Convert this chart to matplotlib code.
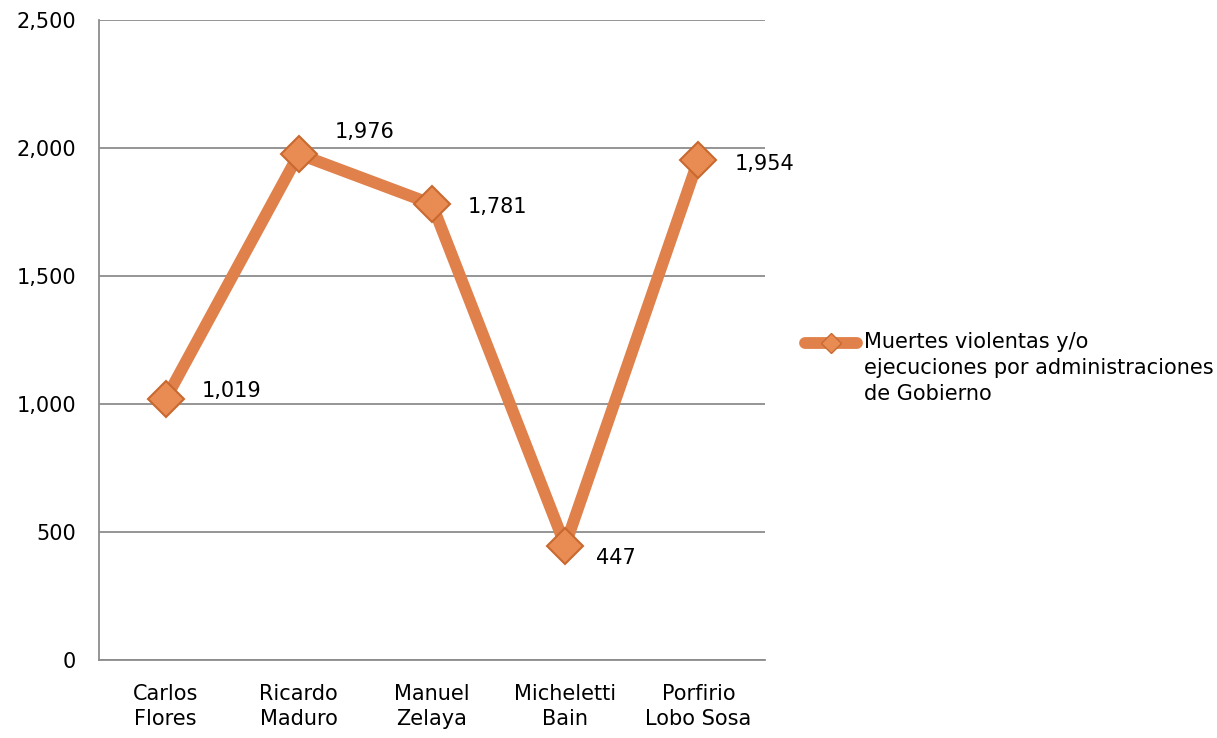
import matplotlib
matplotlib.use("Agg")
import matplotlib.pyplot as plt
from matplotlib.lines import Line2D
from matplotlib.ticker import FuncFormatter, MultipleLocator

categories = ["Carlos\nFlores", "Ricardo\nMaduro", "Manuel\nZelaya", "Micheletti\nBain", "Porfirio\nLobo Sosa"]
values = [1019, 1976, 1781, 447, 1954]
series_name = "Muertes violentas y/o\nejecuciones por administraciones\nde Gobierno"

plt.rcParams['font.family'] = ['DejaVu Sans']
FS = 15

fig = plt.figure(figsize=(12.17, 7.38), dpi=100)
W, H = 1217, 738
ax = fig.add_axes([99/W, 78/H, (765-99)/W, (660-20)/H])

x = list(range(len(values)))
line_color = "#E0804A"
face = "#E98C54"
edge = "#C9692F"
ax.plot(x, values, color=line_color, lw=8.5, marker='D', markersize=18,
        markerfacecolor=face, markeredgecolor=edge, markeredgewidth=1.5,
        solid_joinstyle='miter', zorder=3)

offsets = [(26, 6), (26, 16), (26, -2), (22, -9), (26, -3)]
for xi, v, (dx, dy) in zip(x, values, offsets):
    ax.annotate(f"{v:,}", (xi, v), xytext=(dx, dy), textcoords='offset points',
                ha='left', va='center', fontsize=FS, color='black')

ax.set_xlim(-0.5, len(values) - 0.5)
ax.set_ylim(0, 2500)
ax.yaxis.set_major_locator(MultipleLocator(500))
ax.yaxis.set_major_formatter(FuncFormatter(lambda v, p: f"{int(v):,}"))
ax.set_xticks(x)
ax.set_xticklabels(categories, fontsize=FS, linespacing=1.35)
ax.tick_params(axis='y', length=0, pad=16.5, labelsize=FS)
ax.tick_params(axis='x', length=0, pad=17)
ax.grid(axis='y', color='#8C8C8C', lw=1.3)
ax.set_axisbelow(True)
for s in ['top', 'right']:
    ax.spines[s].set_visible(False)
for s in ['left', 'bottom']:
    ax.spines[s].set_color('#8C8C8C')
    ax.spines[s].set_linewidth(1.3)

# legend drawn manually (handle aligned with first text line)
ly = 1 - 343/H
fig.add_artist(Line2D([805/W, 857/W], [ly, ly], transform=fig.transFigure,
                      color=line_color, lw=8.5, solid_capstyle='round'))
fig.add_artist(Line2D([831/W], [ly], transform=fig.transFigure, marker='D',
                      markersize=10, markerfacecolor=face, markeredgecolor=edge,
                      markeredgewidth=1, linestyle='none'))
fig.text(864/W, ly + 11/H, series_name, fontsize=FS, ha='left', va='top',
         linespacing=1.38)

fig.savefig("out.png", dpi=100)
